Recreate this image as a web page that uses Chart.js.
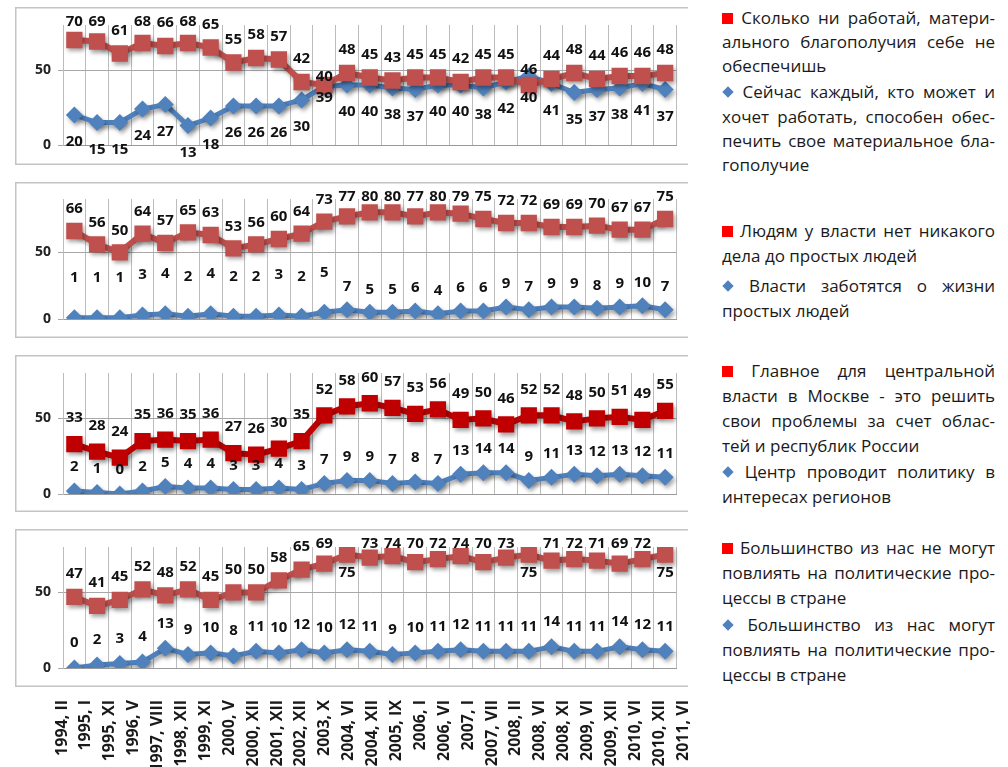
<!DOCTYPE html>
<html><head><meta charset="utf-8">
<script src="https://cdn.jsdelivr.net/npm/chart.js@4.4.1/dist/chart.umd.min.js"></script>
<style>
html,body{margin:0;padding:0;background:#fff;width:1008px;height:767px;overflow:hidden;position:relative;font-family:"Open Sans",sans-serif;}
canvas{position:absolute;}
.ln{position:absolute;left:722px;width:273px;font-size:17px;line-height:24px;height:24px;color:#1a1a1a;white-space:nowrap;}
.j{text-align:justify;text-align-last:justify;}
.sq{display:inline-block;width:11px;height:11px;background:#ff0000;vertical-align:0px;}
.dm{display:inline-block;width:8px;height:8px;background:#4f81bd;transform:rotate(45deg);vertical-align:2px;margin:0 2px;}
</style></head>
<body>
<canvas id="c1" width="673" height="158" style="left:15px;top:7px"></canvas>
<canvas id="c2" width="673" height="156" style="left:15px;top:182px"></canvas>
<canvas id="c3" width="673" height="157" style="left:15px;top:355px"></canvas>
<canvas id="c4" width="673" height="158" style="left:15px;top:529px"></canvas>
<canvas id="c5" width="708" height="77" style="left:0px;top:690px"></canvas>

<div class="ln j" style="top:6px"><span class="sq"></span> Сколько ни работай, матери-</div>
<div class="ln j" style="top:30px">ального благополучия себе не</div>
<div class="ln" style="top:54px">обеспечишь</div>
<div class="ln j" style="top:80px"><span class="dm"></span> Сейчас каждый, кто может и</div>
<div class="ln j" style="top:105px">хочет работать, способен обес-</div>
<div class="ln j" style="top:129px">печить свое материальное бла-</div>
<div class="ln" style="top:153px">гополучие</div>

<div class="ln j" style="top:219px"><span class="sq"></span> Людям у власти нет никакого</div>
<div class="ln" style="top:244px">дела до простых людей</div>
<div class="ln j" style="top:274px"><span class="dm"></span> Власти заботятся о жизни</div>
<div class="ln" style="top:299px">простых людей</div>

<div class="ln j" style="top:359px"><span class="sq"></span> Главное для центральной</div>
<div class="ln j" style="top:384px">власти в Москве - это решить</div>
<div class="ln j" style="top:409px">свои проблемы за счет облас-</div>
<div class="ln" style="top:434px">тей и республик России</div>
<div class="ln j" style="top:460px"><span class="dm"></span> Центр проводит политику в</div>
<div class="ln" style="top:485px">интересах регионов</div>

<div class="ln j" style="top:536px"><span class="sq"></span> Большинство из нас не могут</div>
<div class="ln j" style="top:561px">повлиять на политические про-</div>
<div class="ln" style="top:586px">цессы в стране</div>
<div class="ln j" style="top:613px"><span class="dm"></span> Большинство из нас могут</div>
<div class="ln j" style="top:638px">повлиять на политические про-</div>
<div class="ln" style="top:663px">цессы в стране</div>

<script>
const categories = ['1994, II','1995, I','1995, XI','1996, V','1997, VIII','1998, XII','1999, XI','2000, V','2000, XII','2001, XII','2002, XII','2003, X','2004, VI','2004, XII','2005, IX','2006, I','2006, VI','2007, I','2007, VII','2008, II','2008, VI','2008, XI','2009, VI','2009, XII','2010, VI','2010, XII','2011, VI'];

const cantProvide      = [70,69,61,68,66,68,65,55,58,57,42,40,48,45,43,45,45,42,45,45,40,44,48,44,46,46,48];
const canProvide       = [20,15,15,24,27,13,18,26,26,26,30,39,40,40,38,37,40,40,38,42,46,41,35,37,38,41,37];
const powerIndifferent = [66,56,50,64,57,65,63,53,56,60,64,73,77,80,80,77,80,79,75,72,72,69,69,70,67,67,75];
const powerCares       = [1,1,1,3,4,2,4,2,2,3,2,5,7,5,5,6,4,6,6,9,7,9,9,8,9,10,7];
const centerExploits   = [33,28,24,35,36,35,36,27,26,30,35,52,58,60,57,53,56,49,50,46,52,52,48,50,51,49,55];
const centerForRegions = [2,1,0,2,5,4,4,3,3,4,3,7,9,9,7,8,7,13,14,14,9,11,13,12,13,12,11];
const cannotInfluence  = [47,41,45,52,48,52,45,50,50,58,65,69,75,73,74,70,72,74,70,73,75,71,72,71,69,72,75];
const canInfluence     = [0,2,3,4,13,9,10,8,11,10,12,10,12,11,9,10,11,12,11,11,11,14,11,11,14,12,11];
const yTickValues = [0, 50];

const FONT = '"Open Sans", sans-serif';

const panelPlugin = {
  id: 'panelDeco',
  beforeDraw(chart) {
    const ctx = chart.ctx, w = chart.width, h = chart.height;
    ctx.save();
    ctx.strokeStyle = '#c4c4c4';
    ctx.lineWidth = 1.5;
    ctx.beginPath();
    ctx.moveTo(w, 0.75); ctx.lineTo(0.75, 0.75); ctx.lineTo(0.75, h - 0.75); ctx.lineTo(w, h - 0.75);
    ctx.stroke();
    ctx.restore();
  },
  beforeDatasetsDraw(chart) {
    const ctx = chart.ctx;
    ctx.save();
    ctx.shadowColor = 'rgba(0,0,0,0.35)';
    ctx.shadowBlur = 4;
    ctx.shadowOffsetX = 2;
    ctx.shadowOffsetY = 3;
  },
  afterDatasetsDraw(chart, args, opts) {
    const ctx = chart.ctx;
    ctx.restore();
    ctx.save();
    ctx.font = 'bold 15px ' + FONT;
    ctx.fillStyle = '#111';
    ctx.textAlign = 'center';
    ctx.textBaseline = 'middle';
    chart.data.datasets.forEach((ds, di) => {
      const meta = chart.getDatasetMeta(di);
      const off = opts.offsets[di];
      meta.data.forEach((pt, i) => {
        let y = pt.y + off(i);
        if (y < opts.minY) y = opts.minY;
        ctx.fillText(String(ds.data[i]), pt.x, y);
      });
    });
    ctx.restore();
  }
};

function makePanel(id, redData, blueData, redColor, yMax, padTop, padBottom, offsets) {
  new Chart(document.getElementById(id), {
    type: 'line',
    data: {
      labels: categories,
      datasets: [
        { data: redData, borderColor: redColor, backgroundColor: redColor, borderWidth: 6,
          pointStyle: 'rect', pointRadius: 11.5, pointHoverRadius: 11.5, pointBorderWidth: 0, tension: 0 },
        { data: blueData, borderColor: '#4f81bd', backgroundColor: '#4f81bd', borderWidth: 5,
          pointStyle: 'rectRot', pointRadius: 8.5, pointHoverRadius: 8.5, pointBorderWidth: 0, tension: 0 }
      ]
    },
    options: {
      responsive: false, animation: false,
      layout: { padding: { left: 0, right: 10, top: padTop, bottom: padBottom } },
      plugins: { legend: { display: false }, tooltip: { enabled: false },
        panelDeco: { offsets: offsets, minY: 15 } },
      scales: {
        x: {
          offset: true,
          grid: { offset: true, color: '#bcbcbc', lineWidth: 1, drawTicks: false },
          border: { color: '#9a9a9a', width: 1 },
          ticks: { display: false },
          afterFit: s => { s.height = 0; }
        },
        y: {
          min: 0, max: yMax,
          afterFit: s => { s.width = 48; },
          afterBuildTicks: s => { s.ticks = yTickValues.map(v => ({ value: v })); },
          grid: { color: '#a8a8a8', lineWidth: 1, tickLength: 5, drawTicks: true },
          border: { color: '#bcbcbc' },
          ticks: { font: { family: FONT, size: 14, weight: 'bold' }, color: '#222', padding: 7 }
        }
      }
    },
    plugins: [panelPlugin]
  });
}

makePanel('c1', cantProvide, canProvide, '#c0504d', 80, 18, 20, [
  i => i === 11 ? -8 : (i === 20 ? 13 : -23),
  i => i === 11 ? 11 : (i === 20 ? -6 : 27)
]);
makePanel('c2', powerIndifferent, powerCares, '#c0504d', 90, 17, 19, [
  i => -22,
  i => i <= 11 ? -40 : -23
]);
makePanel('c3', centerExploits, centerForRegions, '#c00000', 80, 18, 18, [
  i => -26,
  i => -24
]);
makePanel('c4', cannotInfluence, canInfluence, '#c0504d', 80, 18, 19, [
  i => (i === 12 || i === 20 || i === 26) ? 18 : -23,
  i => -25
]);

new Chart(document.getElementById('c5'), {
  type: 'line',
  data: { labels: categories, datasets: [] },
  options: {
    responsive: false, animation: false,
    layout: { padding: { left: 50, right: 13, top: 0, bottom: 0 } },
    plugins: { legend: { display: false }, tooltip: { enabled: false } },
    scales: {
      x: {
        offset: true,
        grid: { display: false, drawTicks: false },
        border: { display: false },
        ticks: { autoSkip: false, maxRotation: 90, minRotation: 90, padding: 5,
                 font: { family: FONT, size: 16, weight: 'bold' }, color: '#1a1a1a' },
        afterFit: s => { s.height = 72; }
      },
      y: { display: false, min: 0, max: 1 }
    }
  }
});
</script>
</body></html>
